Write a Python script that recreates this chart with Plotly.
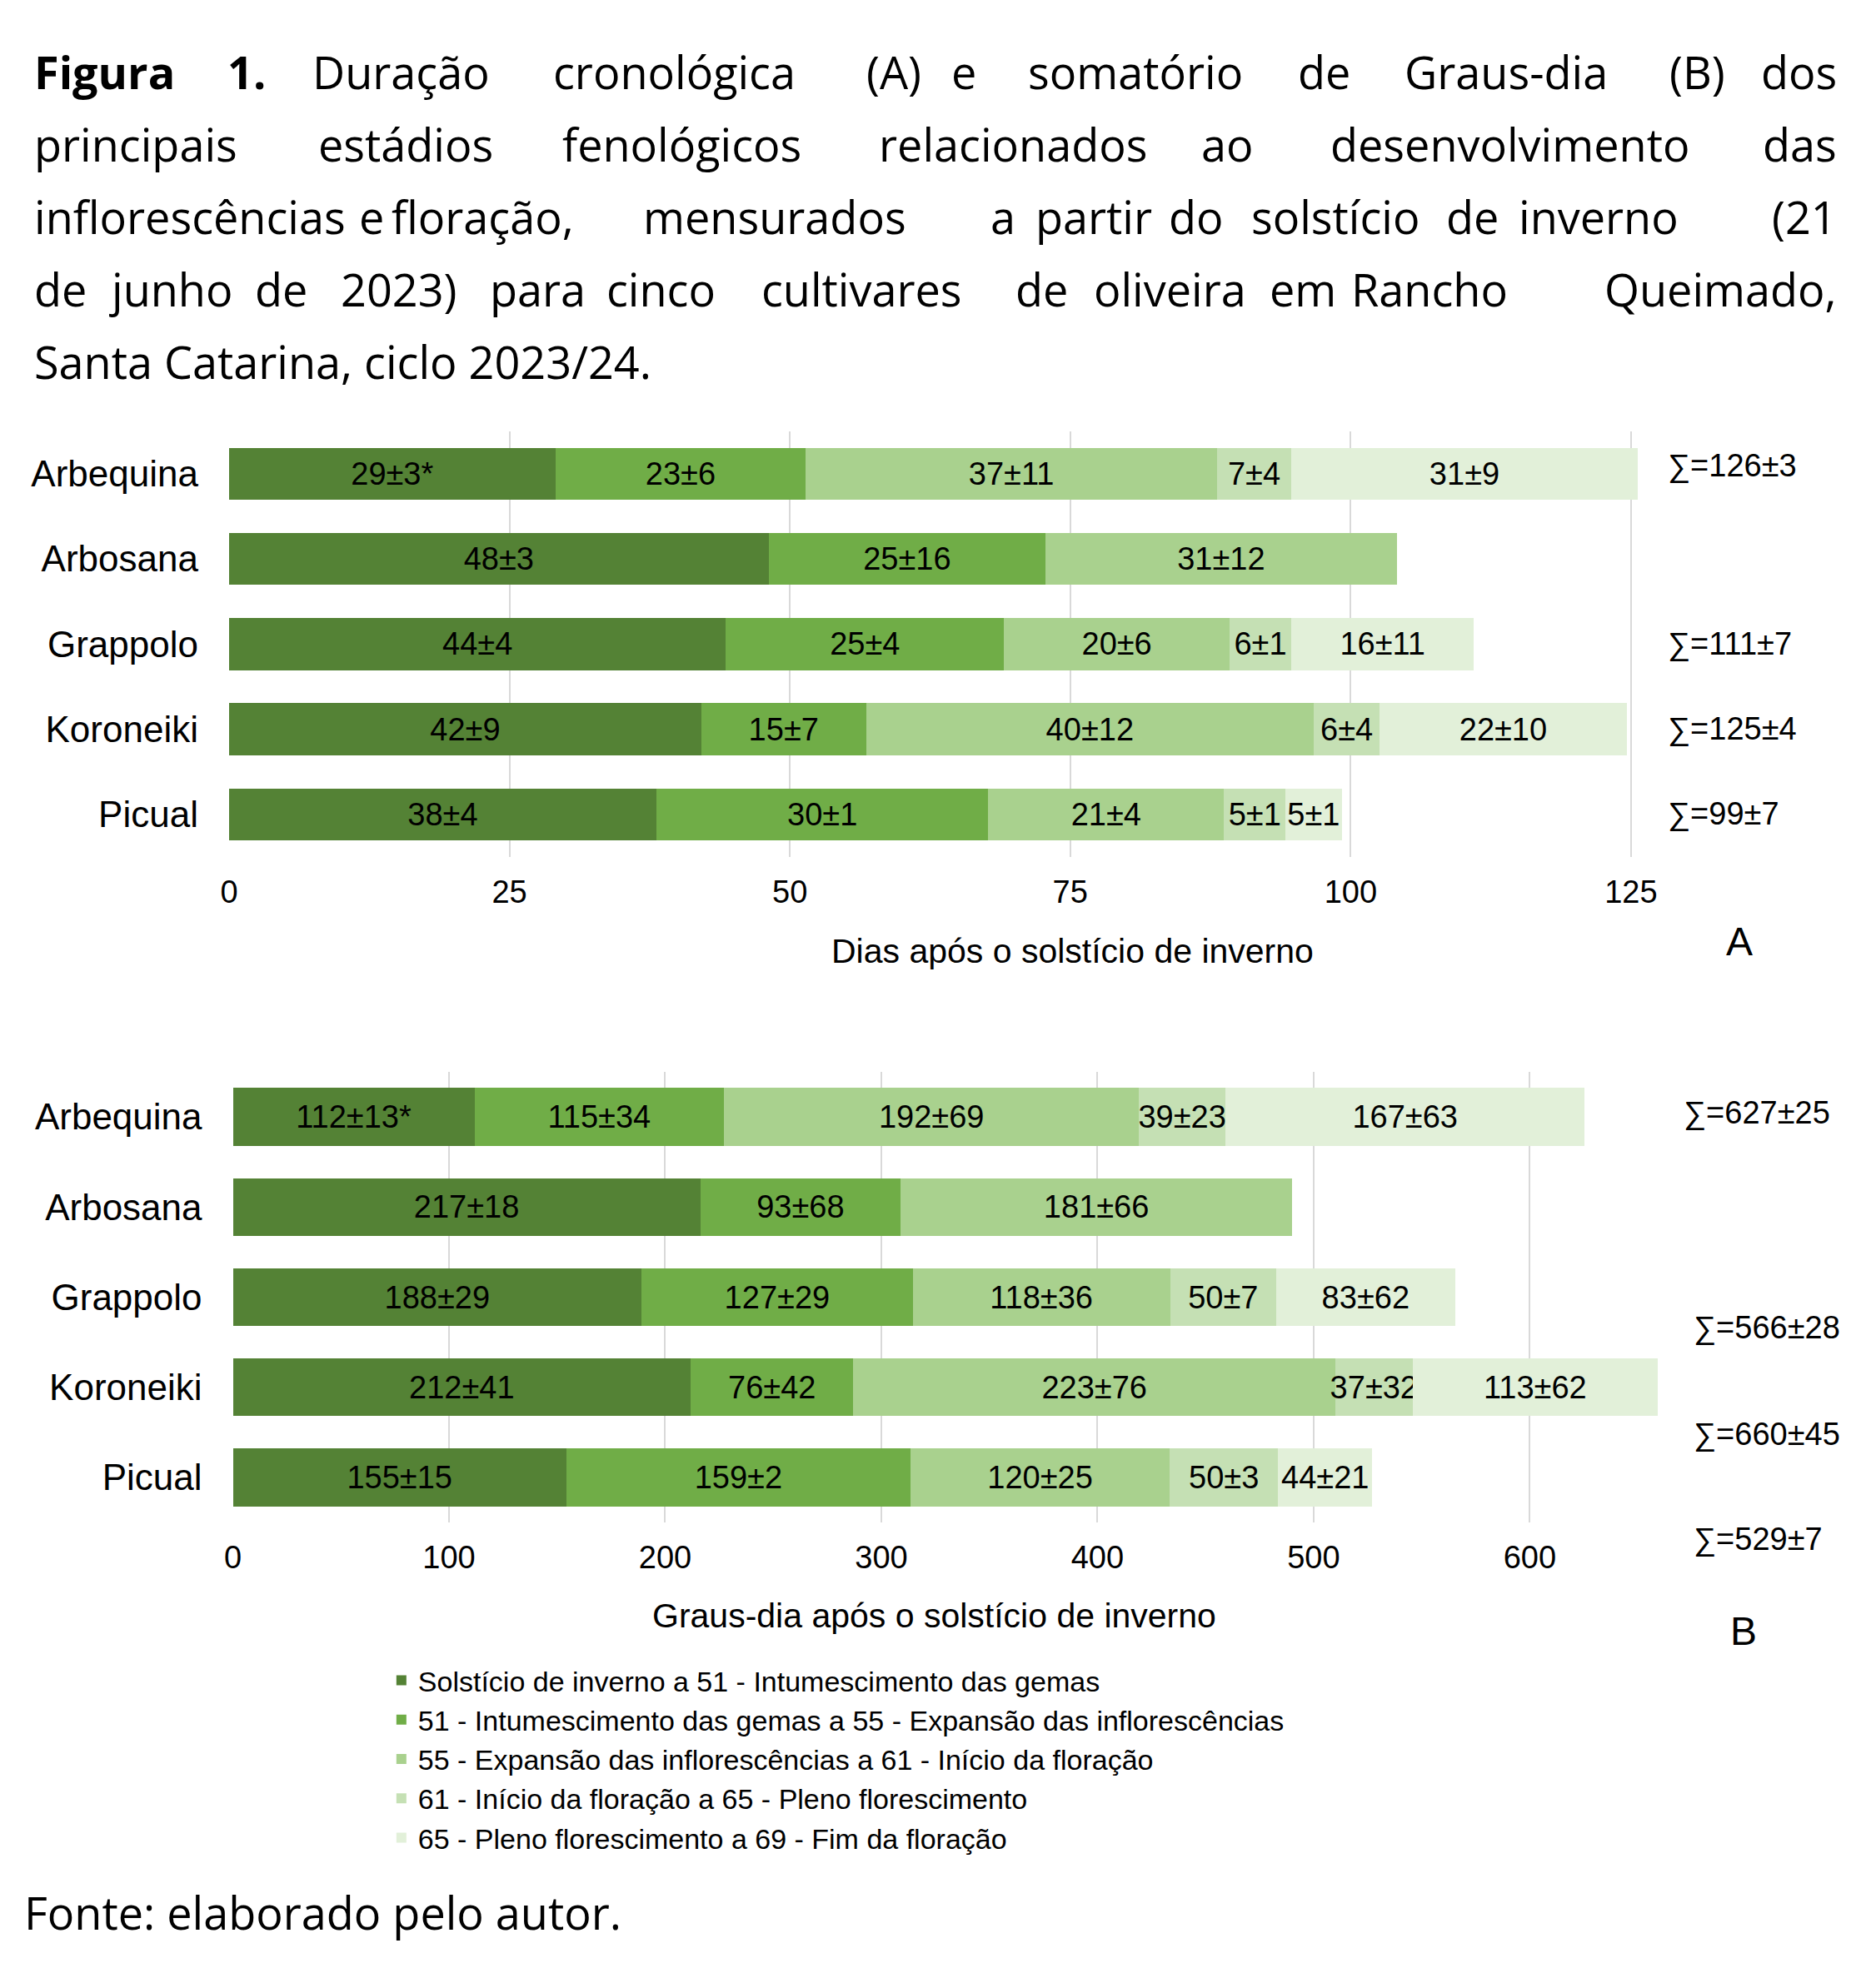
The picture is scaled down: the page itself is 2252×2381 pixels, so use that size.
import plotly.graph_objects as go

# Cultivares e estádios
cultivares = ["Arbequina", "Arbosana", "Grappolo", "Koroneiki", "Picual"]
estadios = [
    "Solstício de inverno a 51 - Intumescimento das gemas",
    "51 - Intumescimento das gemas a 55 - Expansão das inflorescências",
    "55 - Expansão das inflorescências a 61 - Início da floração",
    "61 - Início da floração a 65 - Pleno florescimento",
    "65 - Pleno florescimento a 69 - Fim da floração",
]
cores = ["#548235", "#70AD47", "#A9D18E", "#C5E0B4", "#E2F0D9"]

# (A) Dias após o solstício de inverno
dias_e1 = [29.1, 48.1, 44.3, 42.1, 38.1]
dias_e2 = [22.3, 24.7, 24.8, 14.7, 29.6]
dias_e3 = [36.7, 31.3, 20.1, 39.9, 21.0]
dias_e4 = [6.6, None, 5.5, 5.9, 5.5]
dias_e5 = [30.9, None, 16.3, 22.0, 5.0]
rot_dias_e1 = ["29±3*", "48±3", "44±4", "42±9", "38±4"]
rot_dias_e2 = ["23±6", "25±16", "25±4", "15±7", "30±1"]
rot_dias_e3 = ["37±11", "31±12", "20±6", "40±12", "21±4"]
rot_dias_e4 = ["7±4", "", "6±1", "6±4", "5±1"]
rot_dias_e5 = ["31±9", "", "16±11", "22±10", "5±1"]
soma_dias = ["∑=126±3", "", "∑=111±7", "∑=125±4", "∑=99±7"]
ticks_dias = [0, 25, 50, 75, 100, 125]

# (B) Graus-dia após o solstício de inverno
gd_e1 = [111.8, 216.2, 189.1, 211.8, 154.3]
gd_e2 = [115.4, 92.8, 125.4, 75.3, 159.1]
gd_e3 = [192.0, 181.0, 119.1, 222.9, 120.1]
gd_e4 = [40.0, None, 49.1, 35.8, 50.0]
gd_e5 = [166.2, None, 82.7, 113.4, 43.7]
rot_gd_e1 = ["112±13*", "217±18", "188±29", "212±41", "155±15"]
rot_gd_e2 = ["115±34", "93±68", "127±29", "76±42", "159±2"]
rot_gd_e3 = ["192±69", "181±66", "118±36", "223±76", "120±25"]
rot_gd_e4 = ["39±23", "", "50±7", "37±32", "50±3"]
rot_gd_e5 = ["167±63", "", "83±62", "113±62", "44±21"]
soma_gd = ["∑=627±25", "∑=566±28", "∑=660±45", "∑=529±7"]
ticks_gd = [0, 100, 200, 300, 400, 500, 600]

# Texto da legenda da figura
linhas_titulo = [
    ["<b>Figura</b>", "<b>1.</b>", "Duração", "cronológica", "(A)", "e", "somatório", "de", "Graus-dia", "(B)", "dos"],
    ["principais", "estádios", "fenológicos", "relacionados", "ao", "desenvolvimento", "das"],
    ["inflorescências", "e", "floração,", "mensurados", "a", "partir", "do", "solstício", "de", "inverno", "(21"],
    ["de", "junho", "de", "2023)", "para", "cinco", "cultivares", "de", "oliveira", "em", "Rancho", "Queimado,"],
]
ultima_linha = "Santa Catarina, ciclo 2023/24."
fonte = "Fonte: elaborado pelo autor."

W, H = 2252, 2381
DX, DY = 17, 11  # deslocamento da página
FONTE_GRAF = "Liberation Sans, Arial, sans-serif"
FONTE_TXT = "Open Sans, sans-serif"

# Geometria dos painéis (px)
A_X0, A_UNID, A_TOPO, A_FAIXA = 274.8, 13.56, 520.6, 102.3
B_X0, B_UNID, B_TOPO, B_FAIXA = 279.4, 2.6133, 1289.9, 108.25


def px_x(v):
    return (v - DX) / W


def px_y(v):
    return 1 - (v - DY) / H


fig = go.Figure()

series_a = [(dias_e1, rot_dias_e1), (dias_e2, rot_dias_e2), (dias_e3, rot_dias_e3),
            (dias_e4, rot_dias_e4), (dias_e5, rot_dias_e5)]
series_b = [(gd_e1, rot_gd_e1), (gd_e2, rot_gd_e2), (gd_e3, rot_gd_e3),
            (gd_e4, rot_gd_e4), (gd_e5, rot_gd_e5)]

for i, (vals, rots) in enumerate(series_a):
    fig.add_trace(go.Bar(
        x=vals, y=cultivares, orientation="h", name=estadios[i], legendgroup=str(i),
        marker=dict(color=cores[i], line=dict(width=0)), width=0.61,
        text=rots, textposition="inside", insidetextanchor="middle", textangle=0,
        textfont=dict(color="black", size=38, family=FONTE_GRAF),
        xaxis="x", yaxis="y",
    ))
for i, (vals, rots) in enumerate(series_b):
    fig.add_trace(go.Bar(
        x=vals, y=cultivares, orientation="h", name=estadios[i], legendgroup=str(i),
        showlegend=False,
        marker=dict(color=cores[i], line=dict(width=0)), width=0.64,
        text=rots, textposition="inside", insidetextanchor="middle", textangle=0,
        textfont=dict(color="black", size=38, family=FONTE_GRAF),
        xaxis="x2", yaxis="y2",
    ))

eixo_x = dict(showgrid=True, gridcolor="#D9D9D9", gridwidth=2, zeroline=False,
              showline=False, ticks="", tickfont=dict(size=38, color="black", family=FONTE_GRAF),
              ticklabelstandoff=16)
eixo_y = dict(showgrid=False, zeroline=False, showline=False, ticks="", range=[4.5, -0.5],
              tickfont=dict(size=44, color="black", family=FONTE_GRAF), ticklabelstandoff=36)

annotations = []
fonte_soma = dict(size=38, color="black", family=FONTE_GRAF)

# Somatórios (posição em faixas de categoria)
pos_soma_a = [-0.09, 0, 2, 3, 4]
for s, p in zip(soma_dias, pos_soma_a):
    if s:
        yy = A_TOPO + (p + 0.5) * A_FAIXA
        annotations.append(dict(text=s, xref="paper", yref="paper", x=px_x(2012), y=px_y(yy),
                                xanchor="left", yanchor="middle", showarrow=False, font=fonte_soma))
pos_soma_b = [-0.04, 2.34, 3.52, 4.69]
pos_soma_b_x = [2031, 2043, 2043, 2043]
for s, p, xx in zip(soma_gd, pos_soma_b, pos_soma_b_x):
    yy = B_TOPO + (p + 0.5) * B_FAIXA
    annotations.append(dict(text=s, xref="paper", yref="paper", x=px_x(xx), y=px_y(yy),
                            xanchor="left", yanchor="middle", showarrow=False, font=fonte_soma))

# Títulos dos eixos e letras dos painéis
fonte_eixo = dict(size=41, color="black", family=FONTE_GRAF)
fonte_letra = dict(size=48, color="black", family=FONTE_GRAF)
annotations += [
    dict(text="Dias após o solstício de inverno", x=px_x(1295), y=px_y(1145), xref="paper", yref="paper",
         showarrow=False, font=fonte_eixo),
    dict(text="Graus-dia após o solstício de inverno", x=px_x(1127), y=px_y(1968), xref="paper", yref="paper",
         showarrow=False, font=fonte_eixo),
    dict(text="A", x=px_x(2119), y=px_y(1133), xref="paper", yref="paper",
         showarrow=False, font=fonte_letra),
    dict(text="B", x=px_x(2124), y=px_y(1990), xref="paper", yref="paper",
         showarrow=False, font=fonte_letra),
]

# Título justificado: palavras posicionadas uma a uma
centros = [
    [None, 296, 483, 813, 1079, 1163, 1371, 1599, 1819, 2050, None],
    [None, 488, 822, 1223, 1482, 1823, None],
    [None, 447, 582, 935, 1210, 1320, 1444, 1612, 1778, 1931, None],
    [None, 204, 338, 480, 648, 797, 1040, 1257, 1412, 1573, 1726, None],
]
y_linhas = [88.6, 175.6, 262.6, 349.6, 436.7]
ESQ, DIR = 37, 2221
fonte_tit = dict(size=54, color="black", family=FONTE_TXT)
for palavras, cs, yl in zip(linhas_titulo, centros, y_linhas):
    n = len(palavras)
    for j, (w, c) in enumerate(zip(palavras, cs)):
        if j == 0:
            xx, anc = ESQ, "left"
        elif j == n - 1:
            xx, anc = DIR, "right"
        else:
            xx, anc = c, "center"
        annotations.append(dict(text=w, x=px_x(xx), y=px_y(yl), xref="paper", yref="paper",
                                xanchor=anc, yanchor="middle", showarrow=False, font=fonte_tit))
annotations.append(dict(text=ultima_linha, x=px_x(ESQ), y=px_y(y_linhas[4]), xref="paper", yref="paper",
                        xanchor="left", yanchor="middle", showarrow=False, font=fonte_tit))
annotations.append(dict(text=fonte, x=px_x(25), y=px_y(2299), xref="paper", yref="paper",
                        xanchor="left", yanchor="middle", showarrow=False, font=fonte_tit))

fig.update_layout(
    width=W, height=H, margin=dict(l=0, r=0, t=0, b=0),
    paper_bgcolor="white", plot_bgcolor="white",
    barmode="stack",
    uniformtext=dict(minsize=38, mode="show"),
    xaxis=dict(eixo_x, domain=[px_x(A_X0), px_x(A_X0 + 127 * A_UNID)], range=[0, 127],
               tickvals=ticks_dias, anchor="y"),
    yaxis=dict(eixo_y, domain=[px_y(A_TOPO + 5 * A_FAIXA), px_y(A_TOPO)], anchor="x"),
    xaxis2=dict(eixo_x, domain=[px_x(B_X0), px_x(B_X0 + 665 * B_UNID)], range=[0, 665],
                tickvals=ticks_gd, anchor="y2"),
    yaxis2=dict(eixo_y, domain=[px_y(B_TOPO + 5 * B_FAIXA), px_y(B_TOPO)], anchor="x2"),
    legend=dict(x=446 / W, y=1 - 1981 / H, xanchor="left", yanchor="top",
                traceorder="normal", font=dict(size=34, color="black", family=FONTE_GRAF),
                tracegroupgap=0, bgcolor="rgba(0,0,0,0)"),
    annotations=annotations,
)

fig.write_html("out.html")
